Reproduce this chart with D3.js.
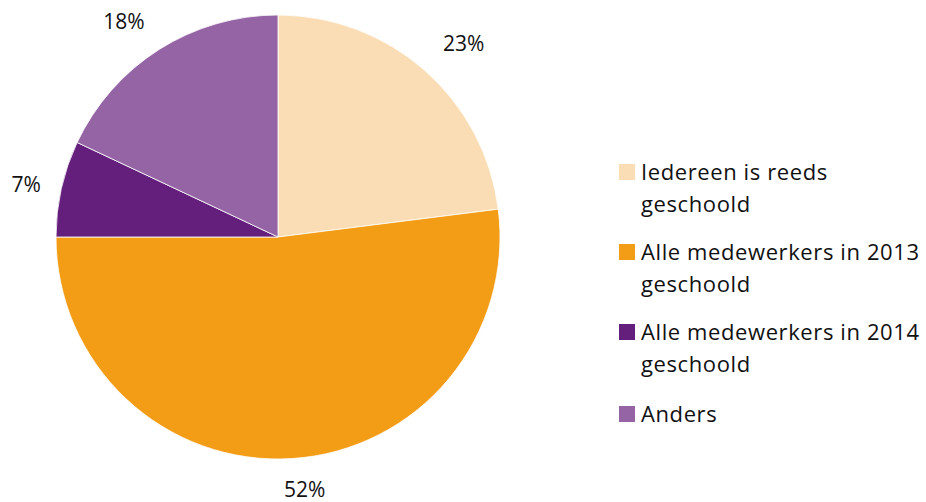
<!DOCTYPE html>
<html>
<head>
<meta charset="utf-8">
<script src="https://cdn.jsdelivr.net/npm/d3@7"></script>
<style>
  body { margin: 0; background: #fff; }
  text { font-family: "Open Sans", "Noto Sans", sans-serif; fill: #111; }
</style>
</head>
<body>
<script>
let width = 926;
let height = 502;

// data
let categories = ["Iedereen is reeds geschoold", "Alle medewerkers in 2013 geschoold",
                  "Alle medewerkers in 2014 geschoold", "Anders"];
let legendLines = [["Iedereen is reeds", "geschoold"],
                   ["Alle medewerkers in 2013", "geschoold"],
                   ["Alle medewerkers in 2014", "geschoold"],
                   ["Anders"]];
let values = [23, 52, 7, 18];
let colors = ["#FADDB5", "#F39C16", "#641E7C", "#9564A5"];

let svg = d3.select("body")
    .append("svg")
    .attr("width", width)
    .attr("height", height);

let cx = 278, cy = 237, radius = 222, labelGap = 20;
// small hand nudges so the labels sit where Excel put them
let labelNudge = [[13, 2], [11, 2], [0, 4], [-15, 3]];

let pie = d3.pie().sort(null).value(function(d) { return d; });
let arc = d3.arc().innerRadius(0).outerRadius(radius);
let color = d3.scaleOrdinal().domain(categories).range(colors);

let g = svg.append("g").attr("transform", "translate(" + cx + "," + cy + ")");

let arcs = pie(values);

g.selectAll("path")
    .data(arcs)
    .enter().append("path")
        .attr("d", arc)
        .attr("fill", function(d, i) { return color(categories[i]); })
        .attr("stroke", "#fff")
        .attr("stroke-width", 0.8);

// outside-end labels: box edge sits labelGap beyond the rim
g.selectAll("text.pct")
    .data(arcs)
    .enter().append("text")
        .attr("class", "pct")
        .attr("text-anchor", "middle")
        .attr("dy", "0.36em")
        .style("font-size", "21px")
        .text(function(d) { return d.data + "%"; })
        .each(function(d, i) {
            let bb = this.getBBox();
            let a = (d.startAngle + d.endAngle) / 2;
            let s = Math.sin(a), c = Math.cos(a);
            let ext = Math.abs(s) * bb.width / 2 + Math.abs(c) * 15 / 2;
            let r = radius + labelGap + ext;
            d3.select(this)
                .attr("x", s * r + labelNudge[i][0])
                .attr("y", -c * r + labelNudge[i][1]);
        });

// legend
let legendX = 619;
let legendY = [164, 244, 324, 406];
let legend = svg.append("g");

let items = legend.selectAll("g")
    .data(categories)
    .enter().append("g");

items.append("rect")
    .attr("x", legendX)
    .attr("y", function(d, i) { return legendY[i]; })
    .attr("width", 16)
    .attr("height", 16)
    .attr("fill", function(d) { return color(d); });

items.each(function(d, i) {
    let t = d3.select(this).append("text")
        .attr("x", legendX + 22)
        .attr("y", legendY[i] + 16)
        .style("font-size", "22px")
        .style("letter-spacing", "0.6px");
    legendLines[i].forEach(function(line, j) {
        t.append("tspan")
            .attr("x", legendX + 22)
            .attr("dy", j == 0 ? 0 : 32)
            .text(line);
    });
});
</script>
</body>
</html>
